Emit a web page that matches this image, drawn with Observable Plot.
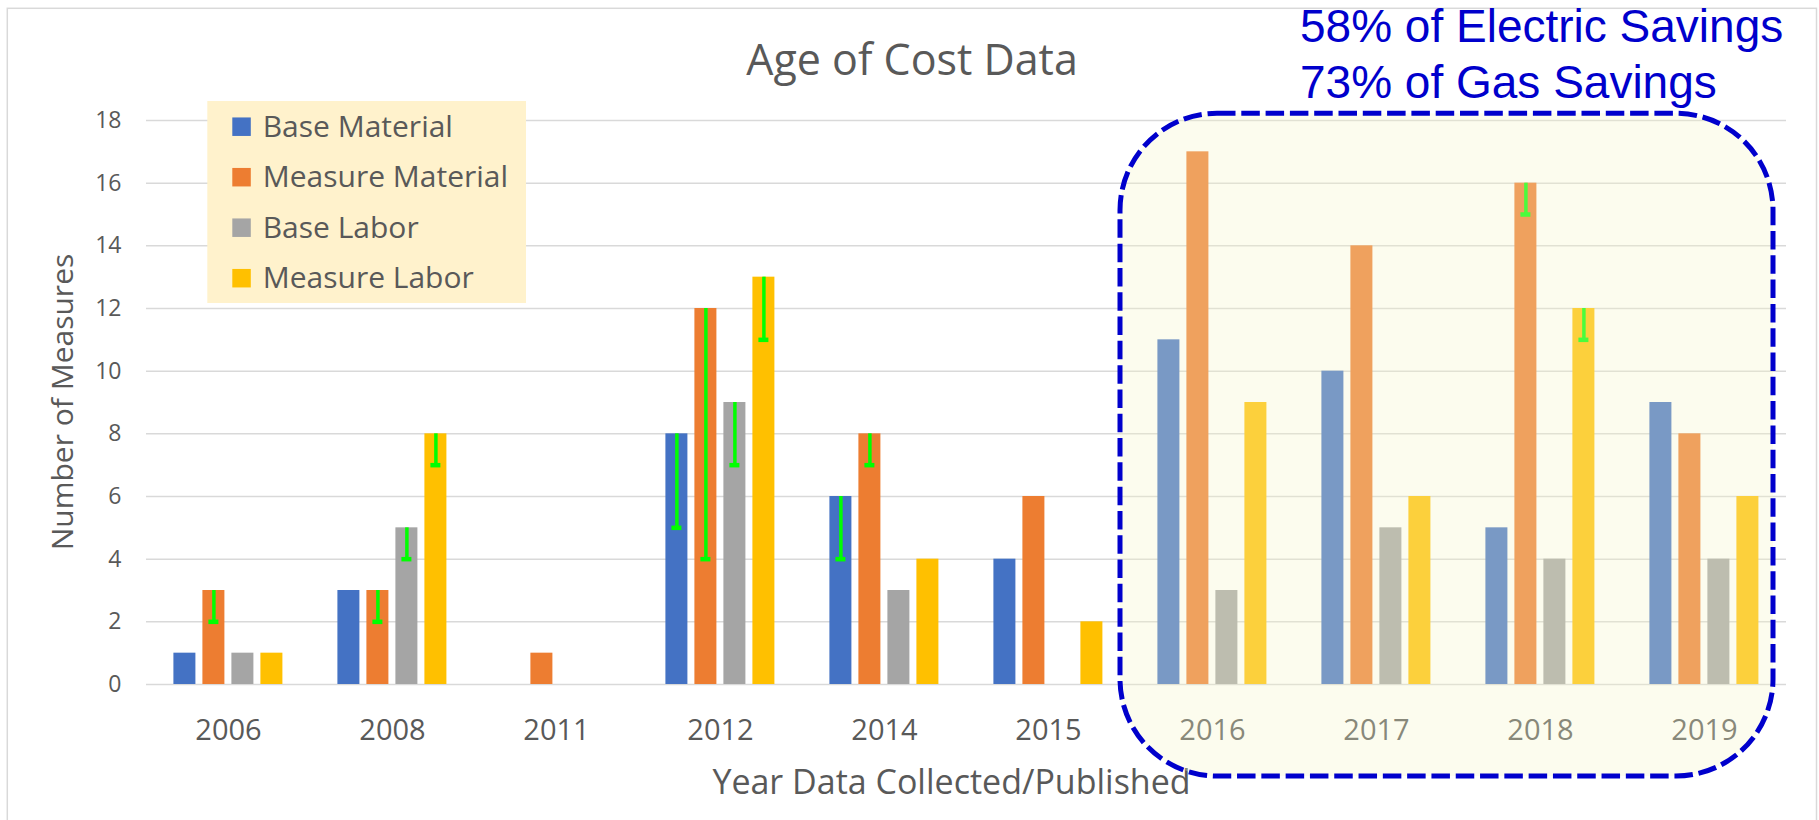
<!DOCTYPE html>
<html><head><meta charset="utf-8">
<script src="https://cdn.jsdelivr.net/npm/d3@7"></script>
<script src="https://cdn.jsdelivr.net/npm/@observablehq/plot@0.6"></script>
<style>
html,body{margin:0;padding:0;background:#fff;}
#wrap{position:relative;width:1819px;height:820px;overflow:hidden;}
#wrap svg.overlay{position:absolute;left:0;top:0;pointer-events:none;}
</style></head><body><div id="wrap"></div>
<script>
// ---- data ----
const years = ["2006","2008","2011","2012","2014","2015","2016","2017","2018","2019"];
const seriesNames = ["Base Material","Measure Material","Base Labor","Measure Labor"];
const seriesColors = ["#4472C4","#ED7D31","#A5A5A5","#FFC000"];
const baseMaterial    = [1, 3, 0, 8, 6, 4, 11, 10, 5, 9];
const measureMaterial = [3, 3, 1, 12, 8, 6, 17, 14, 16, 8];
const baseLabor       = [1, 5, 0, 9, 3, 0, 3, 5, 4, 4];
const measureLabor    = [1, 8, 0, 13, 4, 2, 9, 6, 12, 6];
// lower ends of the green error bars (null = none)
const baseMaterialLow    = [null, null, null, 5, 4, null, null, null, null, null];
const measureMaterialLow = [2, 2, null, 4, 7, null, null, null, 15, null];
const baseLaborLow       = [null, 4, null, 7, null, null, null, null, null, null];
const measureLaborLow    = [null, 7, null, 11, null, null, null, null, 11, null];
const yTicks = [0, 2, 4, 6, 8, 10, 12, 14, 16, 18];
const titleText = "Age of Cost Data";
const xTitle = "Year Data Collected/Published";
const yTitle = "Number of Measures";
const noteLines = ["58% of Electric Savings", "73% of Gas Savings"];
const highlightYears = ["2016", "2019"];

// ---- tables ----
const seriesValues = [baseMaterial, measureMaterial, baseLabor, measureLabor];
const seriesLows = [baseMaterialLow, measureMaterialLow, baseLaborLow, measureLaborLow];
const data = [], errs = [];
years.forEach((yr, i) => {
  seriesNames.forEach((s, j) => {
    data.push({year: yr, series: s, value: seriesValues[j][i]});
    if (seriesLows[j][i] != null) errs.push({year: yr, series: s, low: seriesLows[j][i], high: seriesValues[j][i]});
  });
});

const W = 1819, H = 820;
const FONT = "'Open Sans', sans-serif";
const chart = Plot.plot({
  width: W, height: H,
  marginLeft: 141.6, marginRight: 28.6, marginTop: 120, marginBottom: 136,
  style: {fontFamily: FONT, color: "#595959", background: "transparent", overflow: "visible"},
  fx: {domain: years, padding: 0, label: null},
  x: {domain: seriesNames, paddingInner: 0.23, paddingOuter: 0.872, axis: null},
  y: {domain: [0, 18], label: null},
  color: {domain: seriesNames, range: seriesColors},
  marks: [
    Plot.gridY({ticks: yTicks, stroke: "#D9D9D9", strokeOpacity: 1, strokeWidth: 1.5}),
    Plot.axisY({ticks: yTicks, tickSize: 0, tickPadding: 25, fontSize: 23, label: null}),
    Plot.axisFx({anchor: "bottom", tickSize: 0, tickPadding: 35, fontSize: 29, label: null}),
    Plot.barY(data, {fx: "year", x: "series", y: "value", fill: "series"}),
    Plot.ruleX(errs, {fx: "year", x: "series", y1: "low", y2: "high", stroke: "#00FF00", strokeWidth: 3.5}),
    Plot.tickY(errs, {fx: "year", x: "series", y: "low", stroke: "#00FF00", strokeWidth: 4.5, insetLeft: 6, insetRight: 6})
  ]
});
const wrap = document.getElementById("wrap");
wrap.appendChild(chart);

// ---- overlay: border, title, axis titles, legend, highlight box, note ----
const fx = chart.scale("fx"), ys = chart.scale("y");
const bw = fx.bandwidth;
const ov = d3.select(wrap).append("svg").attr("class", "overlay")
  .attr("width", W).attr("height", H).attr("viewBox", `0 0 ${W} ${H}`);

ov.append("rect").attr("x", 7.3).attr("y", 8.3).attr("width", 1816.5 - 7.3).attr("height", 830)
  .attr("fill", "none").attr("stroke", "#D9D9D9").attr("stroke-width", 1.5);

ov.append("text").attr("x", 912).attr("y", 75).attr("text-anchor", "middle")
  .attr("font-family", FONT).attr("font-size", 43).attr("fill", "#595959").text(titleText);

ov.append("text").attr("x", 951.5).attr("y", 794).attr("text-anchor", "middle")
  .attr("font-family", FONT).attr("font-size", 34).attr("fill", "#595959").text(xTitle);

ov.append("text").attr("transform", `translate(73,${(ys.apply(0) + ys.apply(18)) / 2}) rotate(-90)`)
  .attr("text-anchor", "middle").attr("font-family", FONT).attr("font-size", 30)
  .attr("fill", "#595959").text(yTitle);

// legend
const lg = ov.append("g");
lg.append("rect").attr("x", 207.3).attr("y", 101).attr("width", 318.7).attr("height", 202).attr("fill", "#FFF2CC");
seriesNames.forEach((s, i) => {
  const cy = 126.7 + i * 50.5;
  lg.append("rect").attr("x", 232.3).attr("y", cy - 9.25).attr("width", 18.5).attr("height", 18.5).attr("fill", seriesColors[i]);
  lg.append("text").attr("x", 262.7).attr("y", cy + 10).attr("font-family", FONT).attr("font-size", 30)
    .attr("fill", "#595959").text(s);
});

// highlight box
const bx1 = fx.apply(highlightYears[0]) - 10;
const bx2 = fx.apply(highlightYears[1]) + bw - 13;
const by1 = ys.apply(18) - 6.7;
const by2 = ys.apply(0) + 92;
ov.append("rect").attr("x", bx1).attr("y", by1).attr("width", bx2 - bx1).attr("height", by2 - by1)
  .attr("rx", 97).attr("ry", 97)
  .attr("fill", "rgb(245,245,200)").attr("fill-opacity", 0.3)
  .attr("stroke", "#0000CC").attr("stroke-width", 5).attr("stroke-dasharray", "18.5 5.8");

// note
noteLines.forEach((t, i) => {
  ov.append("text").attr("x", 1300).attr("y", 42 + i * 56)
    .attr("font-family", "'Liberation Sans', Arial, sans-serif").attr("font-size", 46)
    .attr("fill", "#0000CC").text(t);
});
</script></body></html>
